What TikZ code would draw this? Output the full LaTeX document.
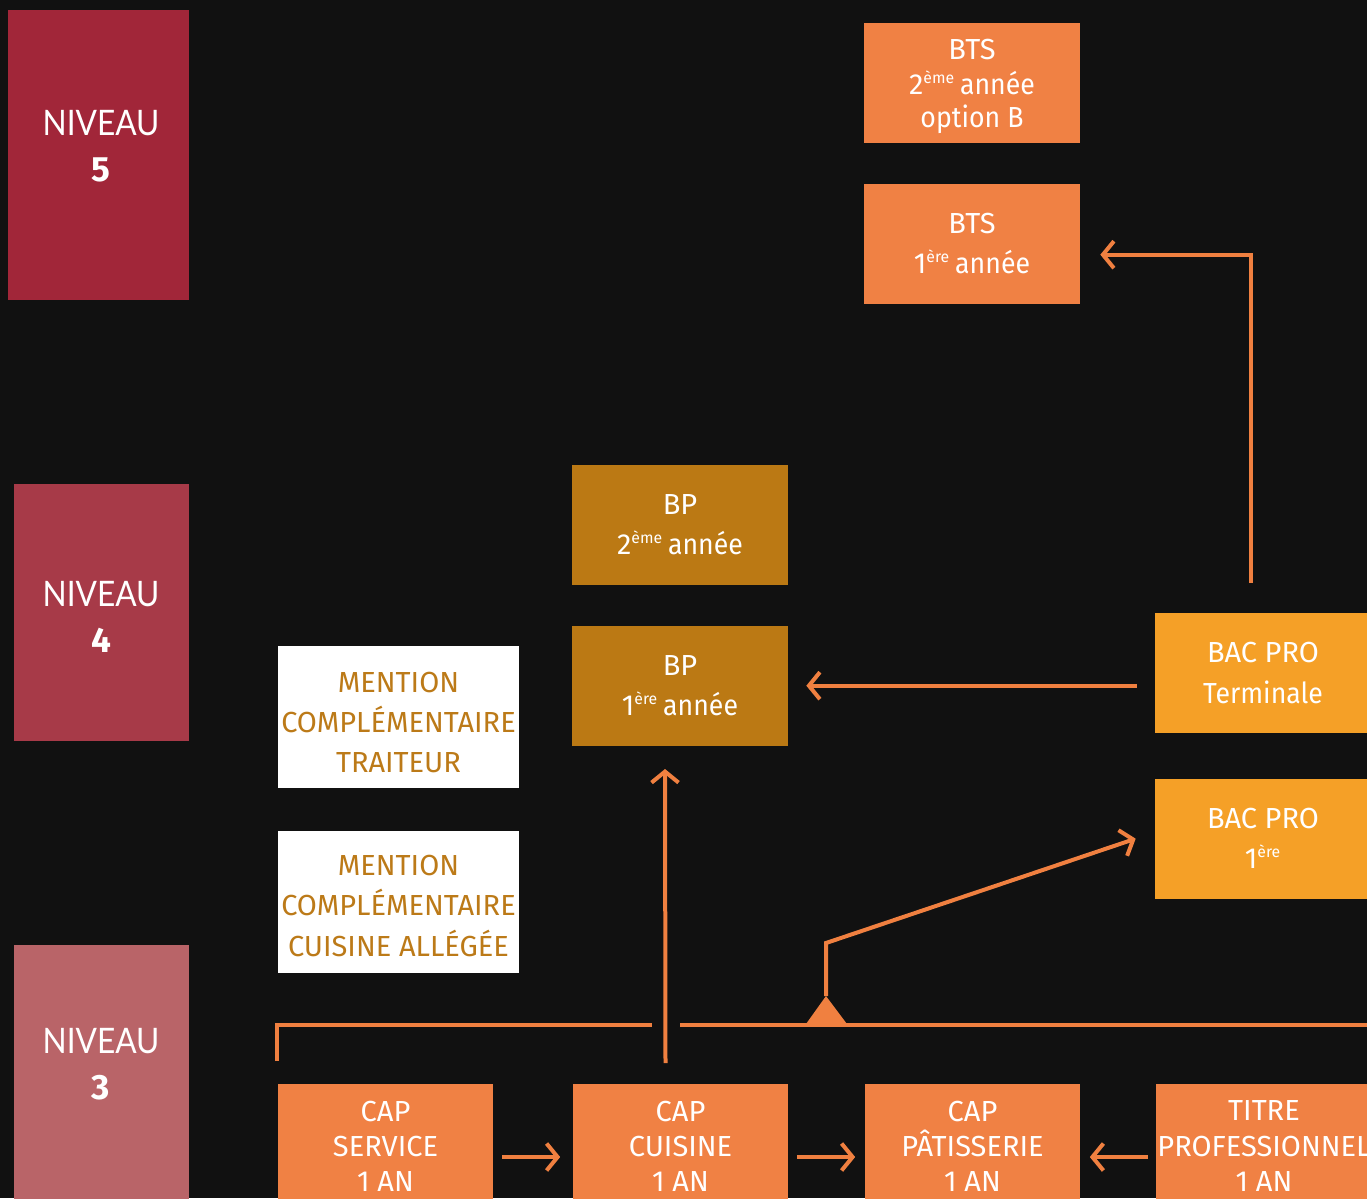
\documentclass[tikz,border=0pt]{standalone}
\usepackage{fontspec}
\setmainfont{Fira Sans}
\newfontfamily\nivfont[FakeStretch=0.9]{Lato}
\newfontfamily\nivbold{Fira Sans}
\newfontfamily\lowfont[FakeStretch=0.92]{Fira Sans}
\usepackage{xcolor}
\definecolor{fond}{HTML}{111111}
\definecolor{niv5}{HTML}{A12639}
\definecolor{niv4}{HTML}{A73A48}
\definecolor{niv3}{HTML}{B96468}
\definecolor{orangeform}{HTML}{F08144}
\definecolor{orangeline}{HTML}{F08040}
\definecolor{bpgold}{HTML}{BB7914}
\definecolor{bacpro}{HTML}{F5A027}
\definecolor{mctext}{HTML}{BC7A18}
\usetikzlibrary{arrows.meta, positioning, calc}
\newcommand{\expo}[1]{\textsuperscript{\fontsize{9}{9}\selectfont #1}}

\begin{document}
\begin{tikzpicture}[
      x=0.02cm, y=-0.02cm,
      node distance=0.8cm,
      niveau/.style={fill=#1, minimum width=3.5cm, inner sep=0pt},
      nivtxt/.style={text=white, align=center,
                     font=\nivfont\fontsize{20}{26}\selectfont},
      form/.style={fill=#1, text=white, align=center, inner sep=0pt,
                   minimum width=4.32cm, minimum height=2.4cm,
                   font=\fontsize{16.5}{20}\selectfont},
      form/.default=orangeform,
      mc/.style={fill=white, text=mctext, align=center, inner sep=0pt,
                 minimum width=4.82cm, minimum height=2.85cm,
                 font=\fontsize{16.5}{22.9}\selectfont},
      link/.style={draw=orangeline, line width=0.08cm},
      arr/.style={link, -{Straight Barb[length=0.22cm, width=0.54cm]}}]

    % ── Fond ──
    \useasboundingbox (0,0) rectangle (1367,1198);
    \clip (0,0) rectangle (1367,1198);
    \fill[fond] (0,0) rectangle (1367,1198);

    % ── Niveaux ──
    \node[niveau=niv5, minimum width=3.62cm, minimum height=5.8cm] (n5) at (98.5,155) {};
    \node[nivtxt] (t5) at (101,146) {NIVEAU\\{\nivbold\bfseries 5}};
    \node[niveau=niv4, minimum height=5.14cm] (n4) at (101.5,612.5) {};
    \node[nivtxt] (t4) at (101,617) {NIVEAU\\{\nivbold\bfseries 4}};
    \node[niveau=niv3, minimum height=5.4cm] (n3) at (101.5,1080) {};
    \node[nivtxt] (t3) at (101,1064) {NIVEAU\\{\nivbold\bfseries 3}};

    % ── BTS ──
    \node[form] (bts2) at (972,83)
      {\\[-0.16cm]BTS\\2\expo{ème}\hspace{0.1cm}{\lowfont année}\\[-0.04cm]{\lowfont option B}};
    \node[form, below=of bts2] (bts1) {BTS\\[0.1cm]1\expo{ère}\hspace{0.1cm}{\lowfont année}};

    % ── BP ──
    \node[form=bpgold] (bp2) at (680,525) {BP\\[0.1cm]2\expo{ème}\hspace{0.1cm}{\lowfont année}};
    \node[form=bpgold, below=of bp2] (bp1) {BP\\[0.1cm]1\expo{ère}\hspace{0.1cm}{\lowfont année}};

    % ── Mentions complémentaires ──
    \node[mc] (mct) at (398.5,717) {\\[-0.18cm]MENTION\\COMPLÉMENTAIRE\\TRAITEUR};
    \node[mc, below=0.84cm of mct] (mcc) {\\[-0.25cm]MENTION\\COMPLÉMENTAIRE\\CUISINE ALLÉGÉE};

    % ── Bac pro ──
    \node[form=bacpro] (bact) at (1263,673) {BAC PRO\\[0.1cm]{\lowfont Terminale}};
    \node[form=bacpro, below=0.9cm of bact] (bac1) {BAC PRO\\[0.1cm]1\expo{ère}};

    % ── CAP et titre ──
    \node[form, minimum height=2.5cm] (caps) at (385.5,1146) {CAP\\SERVICE\\1 AN};
    \node[form, minimum height=2.5cm] (capc) at (680.5,1146) {CAP\\CUISINE\\1 AN};
    \node[form, minimum height=2.5cm] (capp) at (972.5,1146) {CAP\\PÂTISSERIE\\1 AN};
    \node[form, minimum height=2.5cm] (titre) at (1264,1146) {TITRE\\PROFESSIONNEL\\1 AN};

    % ── Accolade et pivot ──
    \coordinate (capy) at (0,1157);
    \coordinate (pivot) at (826,996);
    \draw[link] ([yshift=0.44cm]caps.north west) |- (652,1025);
    \draw[link] (680,1025) -- (1400,1025);
    \fill[orangeline] (806,1024) -- (pivot) -- (847,1024) -- cycle;

    % ── Flèches ──
    \draw[arr] (1251,583) |- ([xshift=0.4cm, yshift=-0.22cm]bts1.east);
    \draw[arr] ([xshift=-0.36cm]bact.west |- bp1.east) -- ([xshift=0.36cm]bp1.east);
    \draw[arr] ([xshift=-0.3cm, yshift=0.4cm]capc.north) -- ([xshift=-0.3cm, yshift=-0.46cm]bp1.south);
    \draw[arr] (pivot) -- ++(0,-53) -- ([xshift=-0.38cm]bac1.west);
    \draw[arr] ([xshift=0.16cm]caps.east |- capy) -- ([xshift=-0.24cm]capc.west |- capy);
    \draw[arr] ([xshift=0.16cm]capc.east |- capy) -- ([xshift=-0.18cm]capp.west |- capy);
    \draw[arr] ([xshift=-0.16cm]titre.west |- capy) -- ([xshift=0.18cm]capp.east |- capy);

  \end{tikzpicture}
\end{document}
